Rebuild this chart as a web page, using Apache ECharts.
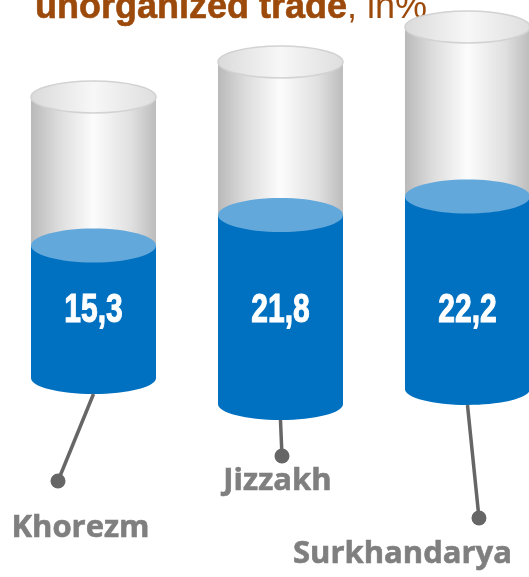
<!DOCTYPE html>
<html><head><meta charset="utf-8">
<script src="https://cdn.jsdelivr.net/npm/echarts@6/dist/echarts.min.js"></script>
<style>html,body{margin:0;padding:0;background:#fff}#main{width:529px;height:577px}</style>
</head><body><div id="main"></div>
<script>
// ---- data ----
const categories = ['Khorezm', 'Jizzakh', 'Surkhandarya'];
const values = [15.3, 21.8, 22.2];
const valueLabels = ['15,3', '21,8', '22,2'];
const titleBold = 'unorganized trade';
const titleRest = ', in%';

// ---- layout (pixels, decorative placement only) ----
const LAYOUT = {
  rx: 62.5, ry: 16, topRy: 17,
  shift: [-12, 14, -1],
  shellHeight: [281, 342, 362],
  dot: [[-35.5, 91], [1.5, 66], [11.5, 128]],
  label: [[-13, 138], [-3, 91], [-65, 164]],
  valueLabelY: 311
};

const chart = echarts.init(document.getElementById('main'), null, {renderer: 'canvas'});

function renderItem(params, api) {
  const i = api.value(0);
  const v = api.value(1);
  const base = api.coord([i, 0]);
  const top = api.coord([i, v]);
  const cx = base[0];
  const s = LAYOUT.shift[i];
  const bottomY = base[1] + s;
  const blueTopY = top[1] + s;
  const shellTopY = bottomY - LAYOUT.shellHeight[i];
  const rx = LAYOUT.rx, ry = LAYOUT.ry;
  const grayBody = new echarts.graphic.LinearGradient(0, 0, 1, 0, [
    {offset: 0, color: '#b9b9b9'},
    {offset: 0.22, color: '#dcdcdc'},
    {offset: 0.5, color: '#fcfcfc'},
    {offset: 0.8, color: '#e0e0e0'},
    {offset: 1, color: '#bcbcbc'}
  ]);
  const grayTop = new echarts.graphic.LinearGradient(0, 0, 1, 0, [
    {offset: 0, color: '#dadada'},
    {offset: 0.5, color: '#f7f7f7'},
    {offset: 1, color: '#dedede'}
  ]);
  const dot = LAYOUT.dot[i];
  const lab = LAYOUT.label[i];
  const dotX = cx + dot[0], dotY = base[1] + dot[1];
  return {
    type: 'group',
    children: [
      {type: 'rect', shape: {x: cx - rx, y: shellTopY, width: 2 * rx, height: blueTopY - shellTopY}, style: {fill: grayBody}},
      {type: 'ellipse', shape: {cx: cx, cy: shellTopY, rx: rx, ry: ry}, style: {fill: grayTop, stroke: '#d2d2d2', lineWidth: 1.5}},
      {type: 'rect', shape: {x: cx - rx, y: blueTopY, width: 2 * rx, height: bottomY - blueTopY}, style: {fill: '#0070c0'}},
      {type: 'ellipse', shape: {cx: cx, cy: bottomY, rx: rx, ry: ry}, style: {fill: '#0070c0'}},
      {type: 'ellipse', shape: {cx: cx, cy: blueTopY, rx: rx, ry: LAYOUT.topRy}, style: {fill: '#63a8da'}},
      {type: 'line', shape: {x1: cx, y1: bottomY + ry, x2: dotX, y2: dotY}, style: {stroke: '#666666', lineWidth: 3.5}},
      {type: 'circle', shape: {cx: dotX, cy: dotY, r: 7.5}, style: {fill: '#666666'}},
      {type: 'text', x: cx + lab[0], y: base[1] + lab[1], style: {
        text: categories[i], x: 0, y: 0, align: 'center', verticalAlign: 'middle',
        fill: '#7f7f7f', stroke: '#7f7f7f', lineWidth: 0.6,
        fontFamily: '"Open Sans", sans-serif', fontWeight: 'bold', fontSize: 31}},
      {type: 'text', x: cx, y: LAYOUT.valueLabelY, scaleX: 0.75, style: {
        text: valueLabels[i], x: 0, y: 0, align: 'center', verticalAlign: 'middle',
        fill: '#ffffff', stroke: '#ffffff', lineWidth: 1.1,
        fontFamily: '"Liberation Sans", Arial, sans-serif', fontWeight: 'bold', fontSize: 40}}
    ]
  };
}

chart.setOption({
  animation: false,
  backgroundColor: '#ffffff',
  grid: {left: 0, right: 0, top: 0, bottom: 187, containLabel: false},
  xAxis: {type: 'value', min: -0.5, max: 2.329, show: false},
  yAxis: {type: 'value', min: 0, max: 45, show: false},
  graphic: [{
    type: 'text', x: 35, y: 8.5, silent: true,
    style: {
      text: '{b|' + titleBold + '}{r|' + titleRest + '}',
      verticalAlign: 'middle', align: 'left',
      rich: {
        b: {fill: '#9c4a0b', stroke: '#9c4a0b', lineWidth: 0.6, fontFamily: '"Liberation Sans", Arial, sans-serif', fontWeight: 'bold', fontSize: 36},
        r: {fill: '#9c4a0b', fontFamily: '"Liberation Sans", Arial, sans-serif', fontWeight: 'normal', fontSize: 36}
      }
    }
  }],
  series: [{
    type: 'custom',
    coordinateSystem: 'cartesian2d',
    silent: true,
    data: values.map((v, i) => [i, v]),
    renderItem: renderItem
  }]
});
</script>
</body></html>
